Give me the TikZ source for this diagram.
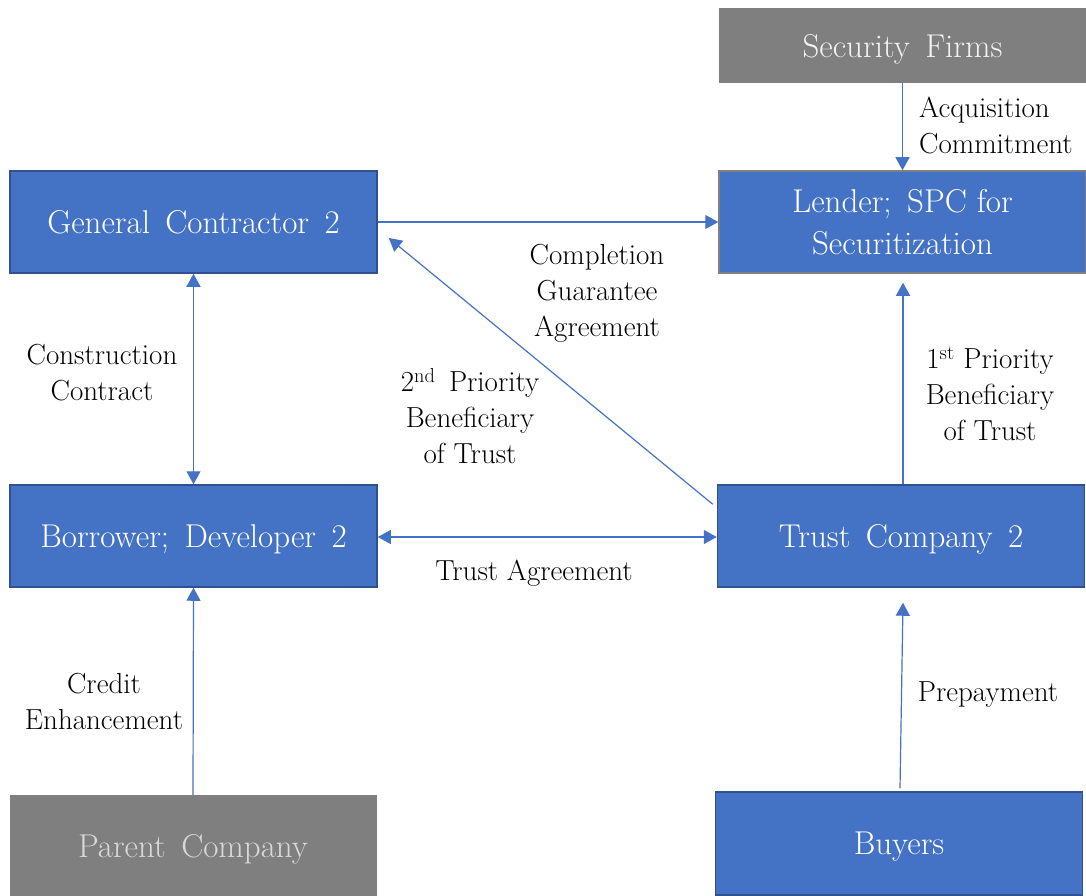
\documentclass[tikz,border=0pt]{standalone}
\usepackage{fontspec}
\usetikzlibrary{arrows.meta}
\definecolor{accent}{HTML}{4472C4}
\definecolor{accentdark}{HTML}{2F528F}
\definecolor{boxgray}{HTML}{7F7F7F}
\definecolor{lightgraytext}{HTML}{D9D9D9}
\tikzset{
  bluebox/.style={draw=accentdark, line width=1.5pt, fill=accent, text=white,
    minimum width=367pt, minimum height=102pt, inner sep=0pt, align=center,
    text depth=0pt, font=\fontsize{33}{42}\selectfont},
  graybox/.style={fill=boxgray, text=lightgraytext, minimum width=367pt,
    inner sep=0pt, align=center, text depth=0pt, font=\fontsize{33}{42}\selectfont},
  link/.style={draw=accent, line width=1.2pt, -{Triangle[width=14pt,length=13pt]}},
  twoway/.style={draw=accent, line width=1.2pt, {Triangle[width=14pt,length=13pt]}-{Triangle[width=14pt,length=13pt]}},
  tag/.style={align=center, inner sep=0pt, font=\fontsize{29}{36}\selectfont}
}
\begin{document}
\begin{tikzpicture}[x=1pt, y=-1pt]
\useasboundingbox (0,0) rectangle (1086,896);

% parties
\node[graybox, minimum height=75pt, text=white!95!black] (sf) at (902.5,45.5) {Security\, Firms};
\node[bluebox, draw=boxgray] (lender) at (902.5,222) {Lender;\, SPC for\\Securitization};
\node[bluebox] (gc) at (193.5,222) {General\, Contractor\, 2};
\node[bluebox] (dev) at (193.5,536) {Borrower;\, Developer\, 2};
\node[bluebox] (trust) at (901,536) {Trust\, Company\, 2};
\node[bluebox, minimum height=103pt] (buyers) at (899,843.5) {Buyers};
\node[graybox, minimum height=101pt] (parent) at (193,845.5) {Parent\, Company};

% relations
\draw[link] (sf.south) -- (lender.north);
\draw[link] (gc.east) -- (lender.west);
\draw[link] ([shift={(-4,20)}]trust.north west) -- ([shift={(11,16)}]gc.east);
\draw[twoway] (gc.south) -- (dev.north);
\draw[twoway] ([shift={(0,1)}]dev.east) -- ([shift={(0,1)}]trust.west);
\draw[link] ([shift={(2,0)}]trust.north) -- ([shift={(0.5,9)}]lender.south);
\draw[link] ([shift={(1,-3)}]buyers.north) -- ([shift={(2,15)}]trust.south);
\draw[link] (parent.north) -- (dev.south);

% relation labels
\node[tag, align=left, anchor=west] (acq) at (919,125) {Acquisition\\Commitment};
\node[tag] (cga) at (597,293) {Completion\\Guarantee\\Agreement};
\node[tag] (second) at (470,416) {2\textsuperscript{nd}\, Priority\\Beneficiary\\of Trust};
\node[tag] (first) at (990,394) {1\textsuperscript{st} Priority\\Beneficiary\\of Trust};
\node[tag] (cc) at (102,373) {Construction\\Contract};
\node[tag] (ta) at (534,573) {Trust Agreement};
\node[tag] (ce) at (104,701) {Credit\\Enhancement};
\node[tag] (pre) at (988,695) {Prepayment};
\end{tikzpicture}
\end{document}
